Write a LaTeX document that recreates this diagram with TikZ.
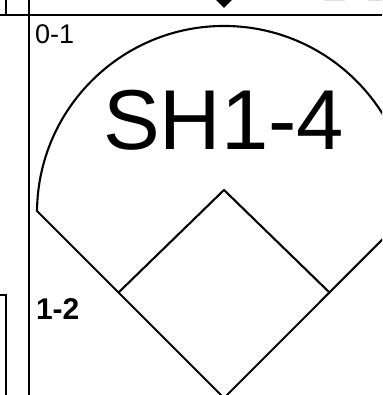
\documentclass[tikz,border=0pt]{standalone}
\usepackage{fontspec}
\setmainfont{Liberation Sans}
\begin{document}
\begin{tikzpicture}[x=1pt,y=1pt,
  line/.style={line width=2.1pt},
  lbl/.style={anchor=base west,inner sep=0pt,outer sep=0pt}]
\useasboundingbox (0,0) rectangle (382,395);
\clip (0,0) rectangle (382,395);
% named points
\coordinate (H)  at (224,-3);
\coordinate (TB) at (118,102);
\coordinate (SB) at (224,205);
\coordinate (FB) at (330,102);
\coordinate (L)  at (37,184);
\coordinate (R)  at (411,184);
% frame lines
\draw[line] (0,380) -- (382,380);
\draw[line] (29,0) -- (29,395);
\draw[line] (6,380) -- (6,395);
\draw[line] (0,100) -- (6,100) -- (6,0);
% faint marks top right
\fill[gray!25] (324,393.5) rectangle (345,395);
\fill[gray!25] (368,393.5) rectangle (382,395);
% top triangle marker
\fill (215,396) -- (233,396) -- (224,387) -- cycle;
% field outline
\draw[line,line join=miter] (L) arc[start angle=179.4,end angle=0.6,radius=187pt] -- (H) -- cycle;
% infield diamond
\draw[line,line join=miter] (TB) -- (SB) -- (FB);
% labels
\node[lbl,font=\fontsize{27}{27}\selectfont] (zo) at (35,351) {0-1};
\node[lbl,font=\fontsize{85}{85}\selectfont] (sh) at (103,245) {SH1-4};
\node[lbl,font=\fontsize{30}{30}\selectfont\bfseries] (oz) at (36,75) {1-2};
\end{tikzpicture}
\end{document}
